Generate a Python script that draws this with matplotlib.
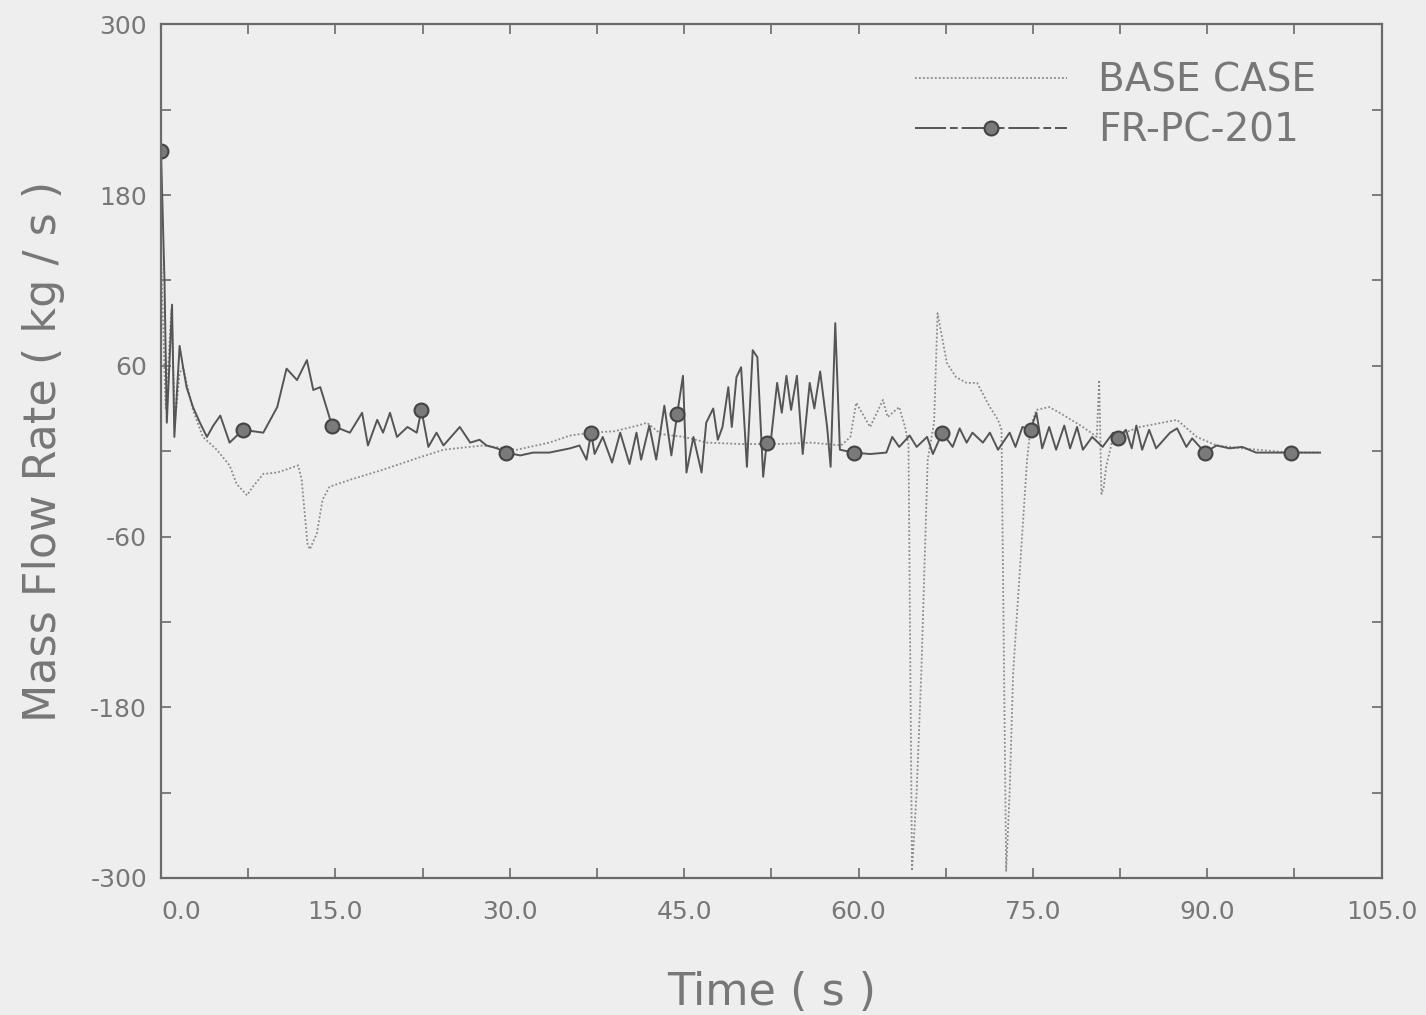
import numpy as np
import matplotlib
matplotlib.use("Agg")
import matplotlib.pyplot as plt
from matplotlib.lines import Line2D
from matplotlib.ticker import MultipleLocator, FormatStrFormatter

# FR-PC-201 (solid line with circle markers)
fr_t = [0.0, 0.3, 0.5, 0.95, 1.15, 1.6, 1.9, 2.2, 2.75, 3.35, 3.95, 4.5, 5.1, 5.9, 7.05,
        8.8, 10.0, 10.8, 11.7, 12.55, 13.1, 13.7, 14.3, 14.7, 16.25, 17.3, 17.8, 18.6, 19.1,
        19.7, 20.3, 21.2, 22.0, 22.4, 23.0, 23.7, 24.3, 25.7, 26.6, 27.4, 28.0, 28.9, 29.7,
        30.9, 32.0, 33.4, 35.2, 36.0, 36.6, 37.0, 37.3, 38.0, 38.8, 39.5, 40.3, 40.9, 41.3,
        42.0, 42.6, 43.3, 43.9, 44.4, 44.9, 45.2, 45.8, 46.5, 46.9, 47.5, 47.9, 48.3, 48.8,
        49.1, 49.5, 49.9, 50.4, 50.9, 51.3, 51.8, 52.1, 52.4, 53.0, 53.4, 53.8, 54.2, 54.7,
        55.2, 55.8, 56.2, 56.7, 57.3, 57.6, 58.0, 58.4, 59.6, 61.0, 62.4, 62.9, 63.5, 64.4,
        65.0, 65.9, 66.4, 67.2, 68.1, 68.7, 69.3, 69.8, 70.7, 71.3, 72.0, 73.0, 73.5, 74.1,
        74.8, 75.3, 75.8, 76.4, 77.0, 77.7, 78.2, 78.8, 79.3, 80.1, 81.0, 81.9, 82.3, 83.0,
        83.5, 83.9, 84.4, 85.0, 85.6, 86.8, 87.4, 88.2, 88.7, 89.8, 90.8, 91.9, 93.0, 94.2,
        97.2, 99.7]
fr_v = [211, 120, 20, 103, 10, 74, 59, 45, 31, 20, 10, 18, 25, 6, 15,
        13, 31, 58, 50, 64, 43, 45, 29, 18, 13, 27, 4, 22, 13,
        27, 10, 17, 13, 29, 3, 13, 4, 17, 6, 8, 4, 2, -1,
        -3, -1, -1, 2, 4, -6, 13, -2, 10, -8, 13, -9, 13, -6,
        18, -6, 32, -3, 26, 53, -15, 10, -15, 20, 30, 8, 17, 45,
        17, 52, 59, -11, 71, 66, -18, 6, 3, 48, 27, 53, 29, 53,
        -2, 48, 30, 56, 17, -11, 90, 1, -1, -2, -1, 10, 3, 11,
        3, 10, -2, 13, 3, 16, 6, 13, 6, 13, 1, 13, 3, 17,
        15, 27, 2, 17, 1, 18, 2, 17, 1, 10, 3, 13, 9, 15,
        2, 18, 1, 15, 2, 13, 16, 3, 9, -1, 4, 2, 3, -1,
        -1, -1]
marker_times = [0.0, 7.05, 14.7, 22.4, 29.7, 37.0, 44.4, 52.1, 59.6, 67.2, 74.8, 82.3, 89.8, 97.2]

# BASE CASE (dotted line)
base_t = [0.0, 0.4, 0.9, 1.2, 1.6, 1.9, 2.75, 3.6, 4.8, 5.9, 6.5, 7.4, 7.9, 8.8, 10.0,
          11.1, 11.8, 12.1, 12.6, 12.8, 13.4, 13.9, 14.5, 16.3, 19.1, 22.0, 24.3, 27.7,
          30.6, 33.4, 35.2, 37.0, 39.0, 41.0, 41.8, 43.0, 45.0, 47.0, 50.0, 53.0, 56.0,
          58.5, 59.3, 59.8, 61.0, 62.1, 62.5, 63.5, 64.0, 64.3, 64.6, 65.0, 65.4, 65.95,
          66.5, 66.8, 67.6, 68.4, 69.3, 70.2, 71.3, 72.0, 72.3, 72.7, 73.0, 73.3, 74.5,
          74.8, 75.3, 76.4, 77.3, 79.3, 80.5, 80.7, 80.9, 81.1, 81.3, 81.9, 84.2, 87.4,
          89.1, 90.8, 93.0, 97.0, 99.7]
base_v = [140, 30, 100, 20, 55, 59, 29, 10, 1, -10, -23, -31, -25, -16, -15,
          -12, -10, -20, -65, -69, -58, -34, -25, -20, -13, -5, 1, 4,
          1, 6, 11, 13, 14, 18, 20, 12, 10, 6, 5, 5, 6,
          4, 10, 34, 17, 36, 24, 31, 17, 5, -295, -240, -156, -6,
          20, 97, 62, 52, 48, 48, 31, 22, 15, -295, -240, -156, -6,
          17, 29, 31, 27, 17, 10, 50, -30, -25, -11, 10, 17, 22,
          10, 4, 2, -1, -1]

x_ticks = [0, 15, 30, 45, 60, 75, 90, 105]
y_ticks = [-300, -180, -60, 60, 180, 300]

plt.rcParams['axes.unicode_minus'] = False
plt.rcParams['font.family'] = ['DejaVu Sans']

bg = '#eeeeee'
ink = '#6a6a6a'
txt = '#777777'

fig = plt.figure(figsize=(14.26, 10.15), dpi=100, facecolor=bg)
ax = fig.add_axes([0.1129, 0.135, 0.856, 0.841], facecolor=bg)

ax.plot(base_t, base_v, color='#8a8a8a', lw=1.3, linestyle=(0, (1, 1.2)))
fr_t_arr = np.array(fr_t)
mark_idx = [int(np.argmin(np.abs(fr_t_arr - m))) for m in marker_times]
ax.plot(fr_t, fr_v, color='#555555', lw=1.4, marker='o', markevery=mark_idx,
        markersize=10, markerfacecolor='#7a7a7a', markeredgecolor='#444444', markeredgewidth=1.5)

ax.set_xlim(0, 105)
ax.set_ylim(-300, 300)
ax.set_xticks(x_ticks)
ax.set_yticks(y_ticks)
ax.xaxis.set_minor_locator(MultipleLocator(7.5))
ax.yaxis.set_minor_locator(MultipleLocator(60))
ax.xaxis.set_major_formatter(FormatStrFormatter('%.1f'))
ax.tick_params(which='both', direction='in', top=True, right=True, length=7, width=1.2,
               color=ink, labelcolor=txt, labelsize=18)
ax.tick_params(axis='x', pad=16)
ax.tick_params(axis='y', pad=10)
for s in ax.spines.values():
    s.set_color(ink)
    s.set_linewidth(1.6)

ax.get_xticklabels()[0].set_horizontalalignment('left')

ax.set_xlabel('Time ( s )', fontsize=32, color=txt, labelpad=34)
ax.set_ylabel('Mass Flow Rate ( kg / s )', fontsize=32, color=txt, labelpad=18)

h_base = Line2D([], [], color='#8a8a8a', lw=1.3, linestyle=(0, (1, 1.2)))
h_fr = Line2D([], [], color='#555555', lw=1.4, linestyle=(0, (16, 2, 4, 2)), marker='o',
              markersize=10, markerfacecolor='#7a7a7a', markeredgecolor='#444444', markeredgewidth=1.5)
leg = ax.legend([h_base, h_fr], ['BASE CASE', 'FR-PC-201'], loc='upper right',
                bbox_to_anchor=(0.975, 0.997), frameon=False, fontsize=28,
                handlelength=3.9, handletextpad=0.8, labelspacing=0.3)
for t in leg.get_texts():
    t.set_color(txt)

fig.savefig('out.png', dpi=100, facecolor=bg)
